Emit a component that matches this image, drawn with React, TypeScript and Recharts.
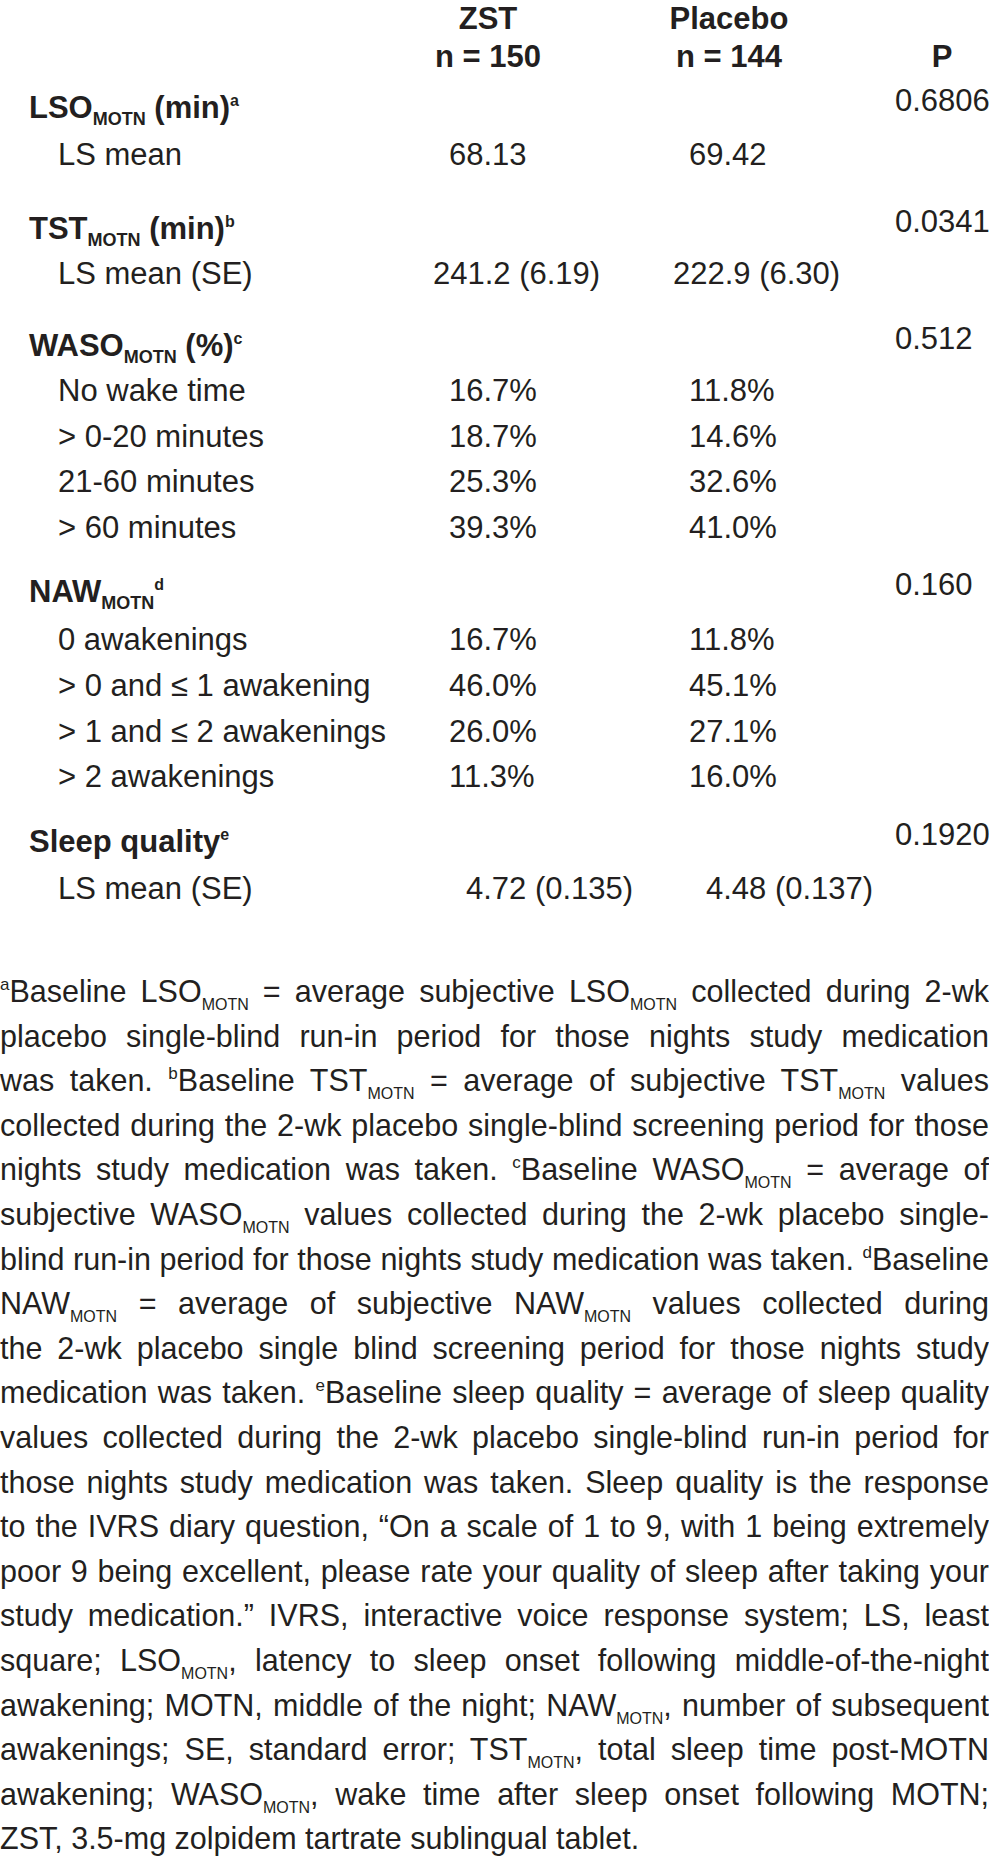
import React from 'react';
import { ScatterChart, Scatter, XAxis, YAxis } from 'recharts';

// table content
const armNames = ['ZST', 'Placebo'];
const armCounts = [150, 144];
const groupLabels = [
  'LSO_{MOTN} (min)^{a}',
  'TST_{MOTN} (min)^{b}',
  'WASO_{MOTN} (%)^{c}',
  'NAW_{MOTN}^{d}',
  'Sleep quality^{e}',
];
const pValues = ['0.6806', '0.0341', '0.512', '0.160', '0.1920'];
const rowLabels = [
  'LS mean',
  'LS mean (SE)',
  'No wake time',
  '> 0-20 minutes',
  '21-60 minutes',
  '> 60 minutes',
  '0 awakenings',
  '> 0 and ≤ 1 awakening',
  '> 1 and ≤ 2 awakenings',
  '> 2 awakenings',
  'LS mean (SE)',
];
const zstValues = ['68.13', '241.2 (6.19)', '16.7%', '18.7%', '25.3%', '39.3%', '16.7%', '46.0%', '26.0%', '11.3%', '4.72 (0.135)'];
const placeboValues = ['69.42', '222.9 (6.30)', '11.8%', '14.6%', '32.6%', '41.0%', '11.8%', '45.1%', '27.1%', '16.0%', '4.48 (0.137)'];

const footnoteLines = [
  '^{a}Baseline LSO_{MOTN} = average subjective LSO_{MOTN} collected during 2-wk',
  'placebo single-blind run-in period for those nights study medication',
  'was taken. ^{b}Baseline TST_{MOTN} = average of subjective TST_{MOTN} values',
  'collected during the 2-wk placebo single-blind screening period for those',
  'nights study medication was taken. ^{c}Baseline WASO_{MOTN} = average of',
  'subjective WASO_{MOTN} values collected during the 2-wk placebo single-',
  'blind run-in period for those nights study medication was taken. ^{d}Baseline',
  'NAW_{MOTN} = average of subjective NAW_{MOTN} values collected during',
  'the 2-wk placebo single blind screening period for those nights study',
  'medication was taken. ^{e}Baseline sleep quality = average of sleep quality',
  'values collected during the 2-wk placebo single-blind run-in period for',
  'those nights study medication was taken. Sleep quality is the response',
  'to the IVRS diary question, \u201cOn a scale of 1 to 9, with 1 being extremely',
  'poor 9 being excellent, please rate your quality of sleep after taking your',
  'study medication.\u201d IVRS, interactive voice response system; LS, least',
  'square; LSO_{MOTN}, latency to sleep onset following middle-of-the-night',
  'awakening; MOTN, middle of the night; NAW_{MOTN}, number of subsequent',
  'awakenings; SE, standard error; TST_{MOTN}, total sleep time post-MOTN',
  'awakening; WASO_{MOTN}, wake time after sleep onset following MOTN;',
  'ZST, 3.5-mg zolpidem tartrate sublingual tablet.',
];

// layout
const W = 989;
const H = 1866;
const TABLE_H = 930;
const FONT = "'Liberation Sans', Arial, Helvetica, sans-serif";
const INK = '#231f20';
const headerY = [29, 67];
const groupY = [118, 239, 356, 602, 852];
const rowY = [165, 284, 401, 447, 492, 538, 650, 696, 742, 787, 899];
const rowShift = [0, -16, 0, 0, 0, 0, 0, 0, 0, 0, 17];
const labelX = 29;
const subLabelX = 58;
const armX = [449, 689];
const armCenter = [488, 729];
const pX = 895;
const pCenter = 942;

type Seg = { t: string; kind: 'plain' | 'sub' | 'sup' };

const parseMarkup = (s: string): Seg[] =>
  s
    .split(/(_\{[^}]*\}|\^\{[^}]*\})/)
    .filter((p) => p.length > 0)
    .map((p) => {
      if (p.startsWith('_{')) return { t: p.slice(2, -1), kind: 'sub' as const };
      if (p.startsWith('^{')) return { t: p.slice(2, -1), kind: 'sup' as const };
      return { t: p, kind: 'plain' as const };
    });

type Cell = { x: number; y: number; text: string; anchor: 'start' | 'middle'; bold?: boolean };

const cells: Cell[] = [];
armNames.forEach((name, i) => {
  cells.push({ x: armCenter[i], y: headerY[0], text: name, anchor: 'middle', bold: true });
  cells.push({ x: armCenter[i], y: headerY[1], text: `n = ${armCounts[i]}`, anchor: 'middle', bold: true });
});
cells.push({ x: pCenter, y: headerY[1], text: 'P', anchor: 'middle', bold: true });
groupLabels.forEach((label, i) => {
  cells.push({ x: labelX, y: groupY[i], text: label, anchor: 'start', bold: true });
  cells.push({ x: pX, y: groupY[i] - 7, text: pValues[i], anchor: 'start' });
});
rowLabels.forEach((label, i) => {
  cells.push({ x: subLabelX, y: rowY[i], text: label, anchor: 'start' });
  cells.push({ x: armX[0] + rowShift[i], y: rowY[i], text: zstValues[i], anchor: 'start' });
  cells.push({ x: armX[1] + rowShift[i], y: rowY[i], text: placeboValues[i], anchor: 'start' });
});

const CellText = (props: any) => {
  const { cx, cy, payload } = props;
  const segs = parseMarkup(payload.text);
  let off = 0;
  return (
    <text
      x={cx}
      y={cy}
      textAnchor={payload.anchor}
      fontFamily={FONT}
      fontSize={31}
      fontWeight={payload.bold ? 700 : 400}
      fill={INK}
      style={{ whiteSpace: 'pre' }}
    >
      {segs.map((s, i) => {
        const target = s.kind === 'sub' ? 7 : s.kind === 'sup' ? -12 : 0;
        const dy = target - off;
        off = target;
        const size = s.kind === 'sub' ? 18 : s.kind === 'sup' ? 16 : undefined;
        return (
          <tspan key={i} dy={dy} fontSize={size}>
            {s.t}
          </tspan>
        );
      })}
    </text>
  );
};

const FootLine = ({ line, last }: { line: string; last: boolean }) => (
  <div
    style={{
      height: 44.6,
      lineHeight: '44.6px',
      whiteSpace: 'nowrap',
      textAlign: 'justify',
      textAlignLast: last ? 'left' : 'justify',
    }}
  >
    {parseMarkup(line).map((s, i) => {
      if (s.kind === 'sub')
        return (
          <span key={i} style={{ fontSize: 16, position: 'relative', top: 8 }}>
            {s.t}
          </span>
        );
      if (s.kind === 'sup')
        return (
          <span key={i} style={{ fontSize: 17, position: 'relative', top: -12 }}>
            {s.t}
          </span>
        );
      return <span key={i}>{s.t}</span>;
    })}
  </div>
);

export default function App() {
  return (
    <div style={{ position: 'absolute', left: 0, top: 0, width: W, height: H, background: '#fff' }}>
      <ScatterChart width={W} height={TABLE_H} margin={{ top: 0, right: 0, bottom: 0, left: 0 }}>
        <XAxis type="number" dataKey="x" domain={[0, W]} hide />
        <YAxis type="number" dataKey="y" domain={[0, TABLE_H]} reversed hide />
        <Scatter data={cells} shape={<CellText />} isAnimationActive={false} />
      </ScatterChart>
      <div
        style={{
          position: 'absolute',
          left: 0,
          top: 969,
          width: W,
          fontFamily: FONT,
          fontSize: 30.5,
          color: INK,
        }}
      >
        {footnoteLines.map((line, i) => (
          <FootLine key={i} line={line} last={i === footnoteLines.length - 1} />
        ))}
      </div>
    </div>
  );
}
